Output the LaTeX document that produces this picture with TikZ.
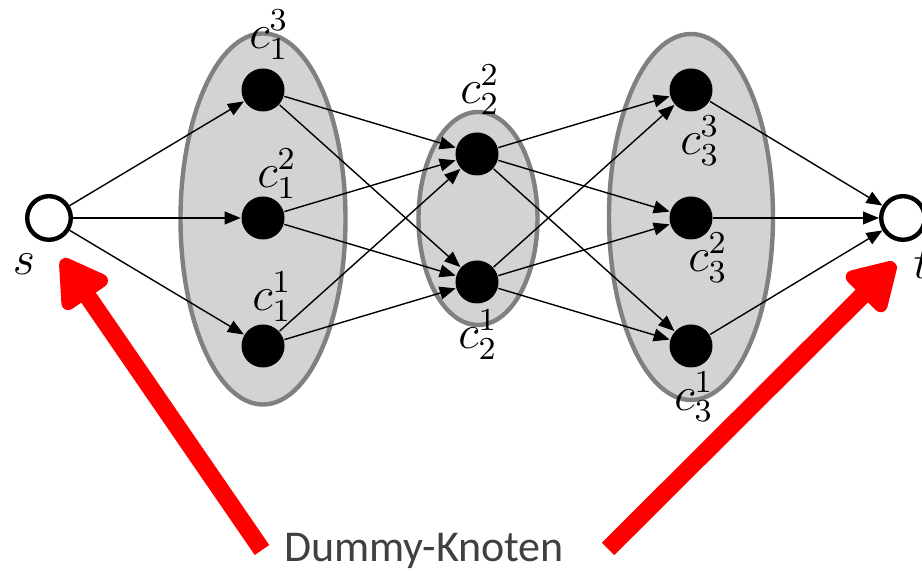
\documentclass[tikz,border=0pt]{standalone}
\usepackage{fontspec}
\newfontfamily\notefont{Carlito}
\usetikzlibrary{arrows.meta,shapes.geometric}
\definecolor{blobfill}{HTML}{D3D3D3}
\definecolor{blobline}{HTML}{808080}
\tikzset{
  blob/.style={ellipse, draw=blobline, fill=blobfill, line width=1.1pt, inner sep=0pt},
  vtx/.style={circle, fill=black, inner sep=0pt, minimum size=10.75pt},
  term/.style={circle, draw=black, fill=white, line width=1.1pt, inner sep=0pt, minimum size=10.9pt},
  lbl/.style={inner sep=0pt, font=\fontsize{12}{14}\selectfont},
  edge/.style={line width=0.35pt, -{Triangle[length=4pt,width=3.2pt]}},
  pointer/.style={red, line width=4.4pt, line cap=butt, -{Triangle[round,length=13.5pt,width=15pt]}},
}
\begin{document}
\begin{tikzpicture}[x=0.25pt,y=-0.25pt]
\useasboundingbox (0,0) rectangle (922,573);

% layer groups
\node[blob, minimum width=41.25pt, minimum height=92.75pt] (g1) at (263,219) {};
\node[blob, minimum width=29.75pt, minimum height=53.25pt] (g2) at (478,218.5) {};
\node[blob, minimum width=41pt, minimum height=91.5pt] (g3) at (691,217) {};

% terminals
\node[term] (s) at (49,218) {};
\node[term] (t) at (903,218) {};

% layer vertices
\node[vtx] (c13) at (263,90) {};
\node[vtx] (c12) at (263,218) {};
\node[vtx] (c11) at (263,346) {};
\node[vtx] (c22) at (477,154) {};
\node[vtx] (c21) at (477,282) {};
\node[vtx] (c33) at (691,90) {};
\node[vtx] (c32) at (691,218) {};
\node[vtx] (c31) at (691,346) {};

% labels
\node[lbl] (ls) at (24,264) {$s$};
\node[lbl] (lt) at (922,264) {$t$};
\node[lbl] (l13) at (269,35) {$c_1^3$};
\node[lbl] (l12) at (277,174) {$c_1^2$};
\node[lbl] (l11) at (272,297) {$c_1^1$};
\node[lbl] (l22) at (480,90) {$c_2^2$};
\node[lbl] (l21) at (478,335) {$c_2^1$};
\node[lbl] (l33) at (700,141) {$c_3^3$};
\node[lbl] (l32) at (708,258) {$c_3^2$};
\node[lbl] (l31) at (694,397) {$c_3^1$};

% edges
\foreach \v in {c13,c12,c11} \draw[edge] (s) -- (\v);
\foreach \u in {c13,c12,c11} \foreach \v in {c22,c21} \draw[edge] (\u) -- (\v);
\foreach \u in {c22,c21} \foreach \v in {c33,c32,c31} \draw[edge] (\u) -- (\v);
\foreach \u in {c33,c32,c31} \draw[edge] (\u) -- (t);

% caption and pointers
\node[font=\notefont\fontsize{11}{13}\selectfont, text=black!75, anchor=base, inner sep=0pt] (dk) at (424,562) {Dummy-Knoten};
\coordinate (pl0) at (262,550);
\coordinate (pl1) at (62,259);
\coordinate (pr0) at (608,549);
\coordinate (pr1) at (895,263);
\draw[pointer] (pl0) -- (pl1);
\draw[pointer] (pr0) -- (pr1);
\end{tikzpicture}
\end{document}
